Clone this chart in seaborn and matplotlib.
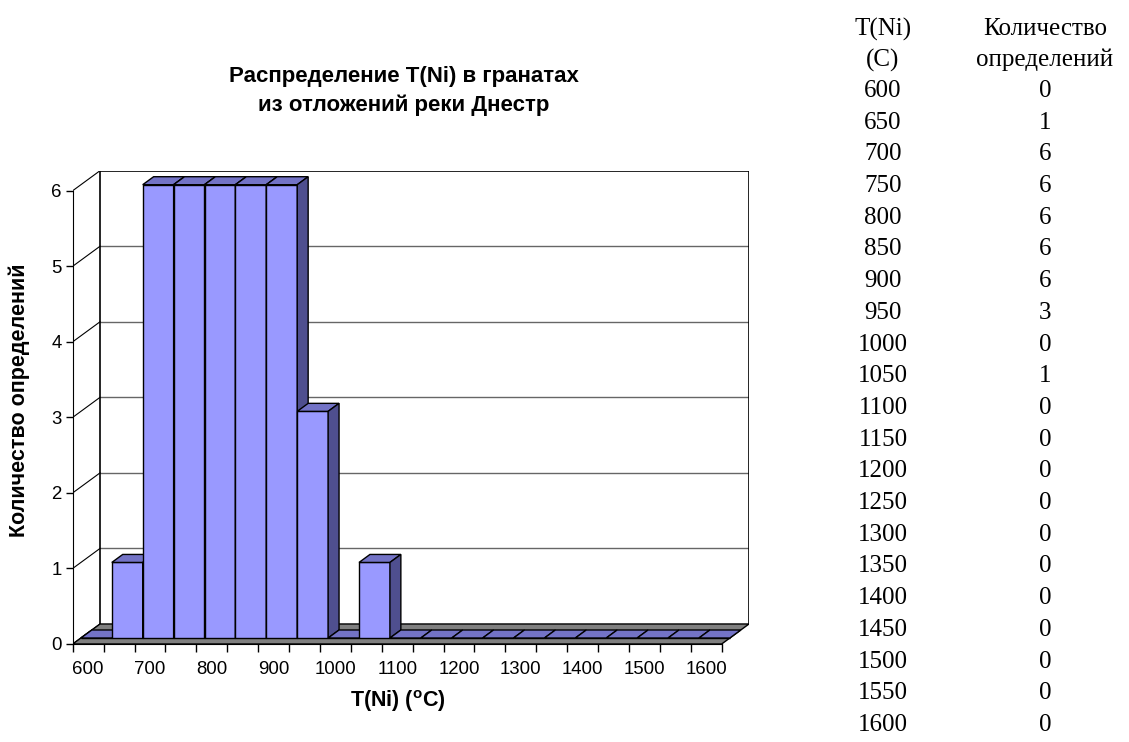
import matplotlib
matplotlib.use("Agg")
import matplotlib.pyplot as plt
from matplotlib.patches import Polygon
import seaborn as sns
import pandas as pd

temps = [600, 650, 700, 750, 800, 850, 900, 950, 1000, 1050, 1100,
         1150, 1200, 1250, 1300, 1350, 1400, 1450, 1500, 1550, 1600]
counts = [0, 1, 6, 6, 6, 6, 6, 3, 0, 1, 0, 0, 0, 0, 0, 0, 0, 0, 0, 0, 0]
title_lines = ["Распределение T(Ni) в гранатах", "из отложений реки Днестр"]
ylabel = "Количество определений"
xlabel = r"T(Ni) ($\mathbf{^o}$C)"
table_head = [("T(Ni)", "(C)"), ("Количество", "определений")]

plt.rcParams["font.family"] = ["Liberation Sans", "DejaVu Sans"]
plt.rcParams["mathtext.fontset"] = "custom"
plt.rcParams["mathtext.rm"] = "Liberation Sans"
plt.rcParams["mathtext.bf"] = "Liberation Sans:bold"

# 3d look: depth offset of the box and of the bars (data units)
DX, DY = 0.884, 0.265
F1, F2 = 0.3, 0.7
front_col, top_col, side_col = "#9999FF", "#7373C6", "#4F4F8F"

df = pd.DataFrame({"T": [str(t) for t in temps], "n": counts})

fig = plt.figure(figsize=(11.29, 7.42), dpi=100)
ax = fig.add_axes([72.7 / 1129, 98 / 742, 676.3 / 1129, 473.3 / 742])

sns.barplot(data=df, x="T", y="n", ax=ax, color=front_col, saturation=1,
            width=1.0, edgecolor="black", linewidth=1)

nb = len(counts)
ax.set_xlim(-0.5, nb - 0.5 + DX)
ax.set_ylim(0, 6 + DY)

# walls and floor
x0, x1 = -0.5, nb - 0.5
ax.add_patch(Polygon([(x0, 0), (x1, 0), (x1 + DX, DY), (x0 + DX, DY)],
                     facecolor="#808080", edgecolor="black", lw=1, zorder=1))
for k in range(1, 6):
    ax.plot([x0 + DX, x1 + DX], [k + DY, k + DY], color="#666666", lw=1, zorder=0.5)
for k in range(0, 7):
    ax.plot([x0, x0 + DX], [k, k + DY], color="black", lw=0.8, zorder=0.6)
ax.plot([x0 + DX, x0 + DX, x1 + DX, x1 + DX], [DY, 6 + DY, 6 + DY, DY],
        color="black", lw=1.2, zorder=0.7)

# shift bars into the middle of the depth and add top/side faces
ddx, ddy = (F2 - F1) * DX, (F2 - F1) * DY
for i, p in enumerate(ax.patches[:nb]):
    p.set_x(p.get_x() + F1 * DX)
    p.set_y(F1 * DY)
    p.set_zorder(2 + 3 * i)
    bx, by, w, h = p.get_x(), p.get_y(), p.get_width(), p.get_height()
    top = Polygon([(bx, by + h), (bx + w, by + h), (bx + w + ddx, by + h + ddy),
                   (bx + ddx, by + h + ddy)], facecolor=top_col,
                  edgecolor="black", lw=1, zorder=2 + 3 * i + 1)
    ax.add_patch(top)
    if h > 0:
        side = Polygon([(bx + w, by), (bx + w + ddx, by + ddy),
                        (bx + w + ddx, by + h + ddy), (bx + w, by + h)],
                       facecolor=side_col, edgecolor="black", lw=1,
                       zorder=2 + 3 * i + 2)
        ax.add_patch(side)

# axes
for s in ["top", "right"]:
    ax.spines[s].set_visible(False)
ax.spines["left"].set_bounds(0, 6)
ax.spines["bottom"].set_bounds(x0, x1)
ax.spines["left"].set_zorder(100)
ax.set_yticks(range(7))
ax.set_yticklabels([str(k) for k in range(7)], fontsize=13.4)
ax.tick_params(axis="y", length=5, width=1, pad=3)
ax.set_xticks(range(0, nb, 2))
ax.set_xticklabels([str(t) for t in temps[::2]], fontsize=13.4)
ax.set_xticks([k - 0.5 for k in range(nb + 1)], minor=True)
ax.tick_params(axis="x", which="major", length=0, pad=12)
ax.tick_params(axis="x", which="minor", length=6, width=1)
ax.set_xlabel("")
ax.set_ylabel("")
ax.set_facecolor("none")

fig.text(404 / 1129, 1 - 91 / 742, "\n".join(title_lines), ha="center",
         va="center", fontsize=16, fontweight="bold", linespacing=1.4)
fig.text(19 / 1129, 1 - 400 / 742, ylabel, rotation=90, ha="center",
         va="center", fontsize=15.5, fontweight="bold")
fig.text(398 / 1129, 1 - 701 / 742, xlabel, ha="center", va="center",
         fontsize=15.5, fontweight="bold")

# data table at the right
serif = ["Liberation Serif", "DejaVu Serif"]
cols = [883 / 1129, 1045 / 1129]
for c, (a, b) in zip(cols, table_head):
    fig.text(c, 1 - 29 / 742, a, ha="center", va="center", fontsize=18, family=serif)
    fig.text(c, 1 - 60 / 742, b, ha="center", va="center", fontsize=18, family=serif)
for i, (t, n) in enumerate(zip(temps, counts)):
    y = 1 - (91 + 31.7 * i) / 742
    fig.text(cols[0], y, str(t), ha="center", va="center", fontsize=18, family=serif)
    fig.text(cols[1], y, str(n), ha="center", va="center", fontsize=18, family=serif)

fig.savefig("out.png", dpi=100)
